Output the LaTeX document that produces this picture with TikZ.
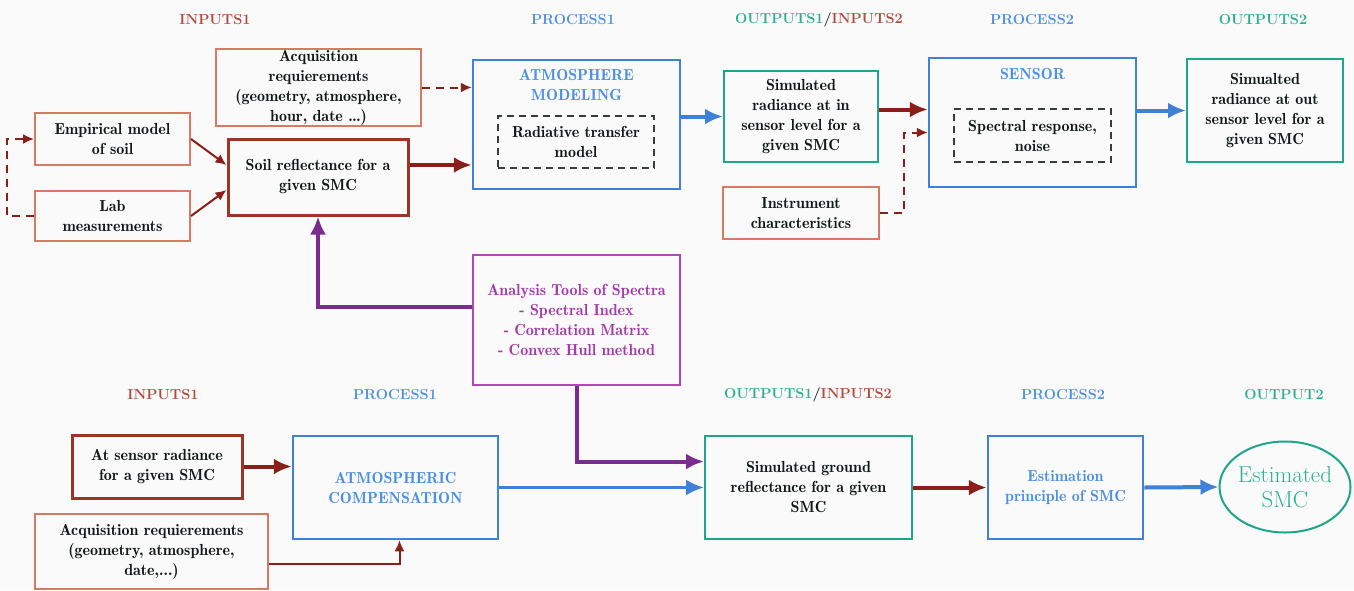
\documentclass[tikz,border=0pt]{standalone}
\usepackage{fontspec}
\usepackage{xcolor}
\usepackage{tikz}
\usetikzlibrary{arrows}
\usetikzlibrary{arrows.meta}
\usetikzlibrary{shapes}
\usetikzlibrary{shapes.geometric}
\tikzset{>=latex}

\newfontfamily\demifam{lmromandemi10-regular.otf}

\definecolor{inred}{HTML}{D67A63}
\definecolor{darkred}{HTML}{9E3426}
\definecolor{arrred}{HTML}{8A1F1A}
\definecolor{hdred}{HTML}{B04A3C}
\definecolor{procblue}{HTML}{3F80D8}
\definecolor{txtblue}{HTML}{4C90E0}
\definecolor{outgreen}{HTML}{1FA58A}
\definecolor{hdgreen}{HTML}{2AB08F}
\definecolor{toolpurple}{HTML}{7B2C8E}
\definecolor{toolpink}{HTML}{B347B5}
\definecolor{tooltxt}{HTML}{A33AA8}
\definecolor{ink}{HTML}{121819}

\newcommand{\bxfont}{\demifam\fontsize{16}{20}\selectfont}
\newcommand{\hdfont}{\fontsize{14.5}{17}\selectfont\bfseries}

\tikzstyle{hd} = [font=\hdfont, inner sep=0pt]
\tikzstyle{inbox} = [rectangle, draw=inred, line width=2pt, font=\bxfont, text=ink, align=center, inner sep=0pt]
\tikzstyle{keybox} = [inbox, draw=darkred, line width=3pt]
\tikzstyle{procbox} = [rectangle, draw=procblue, line width=2.5pt, font=\bxfont, text=txtblue, align=center, inner sep=0pt]
\tikzstyle{outbox} = [rectangle, draw=outgreen, line width=2pt, font=\bxfont, text=ink, align=center, inner sep=0pt]
\tikzstyle{subbox} = [rectangle, draw=ink!85, dash pattern=on 7pt off 5pt, line width=2pt, font=\bxfont, text=ink, align=center, inner sep=0pt]
\tikzstyle{toolbox} = [rectangle, draw=toolpink, line width=2pt, font=\bxfont, text=tooltxt, align=center, inner sep=0pt]
\tikzstyle{flow} = [-{Latex[length=18pt, width=16pt]}, line width=4pt, draw=arrred]
\tikzstyle{feed} = [-{Latex[length=11pt, width=10pt]}, line width=2pt, draw=arrred]
\tikzstyle{opt} = [feed, dash pattern=on 8pt off 6pt]
\tikzstyle{blueflow} = [-{Latex[length=18pt, width=16pt]}, line width=4pt, draw=procblue]
\tikzstyle{toolflow} = [-{Latex[length=18pt, width=16pt]}, line width=4pt, draw=toolpurple]

\begin{document}
\begin{tikzpicture}[x=1pt, y=-1pt]
\useasboundingbox (0,0) rectangle (1354,590);
\fill [black!2] (0,0) rectangle (1354,590);

% top row headings
\node [hd, text=hdred] (H1) at (215, 20) {INPUTS1};
\node [hd, text=txtblue] (H2) at (573, 20) {PROCESS1};
\node [hd] (H3) at (819, 20) {\textcolor{hdgreen}{OUTPUTS1}\textcolor{ink}{/}\textcolor{hdred}{INPUTS2}};
\node [hd, text=txtblue] (H4) at (1032, 20) {PROCESS2};
\node [hd, text=hdgreen] (H5) at (1263, 20) {OUTPUTS2};

% top row boxes
\node [inbox, minimum width=205pt, minimum height=77pt] (AQ) at (318.5, 87.5) {Acquisition\\requierements\\(geometry, atmosphere,\\hour, date \dots)};
\node [inbox, minimum width=155pt, minimum height=52pt] (EM) at (112.5, 139) {Empirical model\\of soil};
\node [inbox, minimum width=155pt, minimum height=50pt] (LB) at (112.5, 216) {Lab\\measurements};
\node [keybox, minimum width=180pt, minimum height=76pt] (SR) at (318, 177) {Soil reflectance for a\\given SMC};
\node [procbox, minimum width=207pt, minimum height=129pt] (AT) at (576.5, 124.5) {};
\node [font=\bxfont, text=txtblue, align=center] (ATT) at (576.5, 85) {ATMOSPHERE\\MODELING};
\node [subbox, minimum width=156pt, minimum height=52pt] (RT) at (576, 142) {Radiative transfer\\model};
\node [outbox, minimum width=154pt, minimum height=91pt] (SI) at (801, 116.5) {Simulated\\radiance at in\\sensor level for a\\given SMC};
\node [inbox, minimum width=156pt, minimum height=52pt] (IC) at (801, 213) {Instrument\\characteristics};
\node [procbox, minimum width=207pt, minimum height=129pt] (SE) at (1032.5, 122.5) {};
\node [font=\bxfont, text=txtblue] (SET) at (1032.5, 74) {SENSOR};
\node [subbox, minimum width=157pt, minimum height=53pt] (SP) at (1032.5, 135.5) {Spectral response,\\noise};
\node [outbox, minimum width=156pt, minimum height=103pt] (SO) at (1265, 110.5) {Simualted\\radiance at out\\sensor level for a\\given SMC};

% analysis tools
\node [toolbox, minimum width=207pt, minimum height=130pt] (TO) at (576.5, 320) {Analysis Tools of Spectra\\- Spectral Index\\- Correlation Matrix\\- Convex Hull method};

% bottom row headings
\node [hd, text=hdred] (B1) at (163, 395) {INPUTS1};
\node [hd, text=txtblue] (B2) at (395, 395) {PROCESS1};
\node [hd] (B3) at (808, 395) {\textcolor{hdgreen}{OUTPUTS1}\textcolor{ink}{/}\textcolor{hdred}{INPUTS2}};
\node [hd, text=txtblue] (B4) at (1063, 395) {PROCESS2};
\node [hd, text=hdgreen] (B5) at (1284, 395) {OUTPUT2};

% bottom row boxes
\node [keybox, minimum width=170pt, minimum height=63pt] (AS) at (157, 466.5) {At sensor radiance\\for a given SMC};
\node [inbox, minimum width=233pt, minimum height=75pt] (AQ2) at (151.5, 551.5) {Acquisition requierements\\(geometry, atmosphere,\\date,...)};
\node [procbox, minimum width=205pt, minimum height=103pt] (AC) at (395.5, 487.5) {ATMOSPHERIC\\COMPENSATION};
\node [outbox, minimum width=207pt, minimum height=103pt] (SG) at (808.5, 487.5) {Simulated ground\\reflectance for a given\\SMC};
\node [procbox, minimum width=155pt, minimum height=103pt] (ES) at (1065.5, 487.5) {Estimation\\principle of SMC};
\node [ellipse, draw=outgreen, line width=2pt, minimum width=131pt, minimum height=91pt, inner xsep=-12pt, inner ysep=0pt, text=hdgreen, font=\fontsize{23}{25}\selectfont, align=center] (SM) at (1285, 487) {Estimated\\SMC};

% top row links
\draw [feed] (EM.east) -- ([yshift=12pt]SR.west);
\draw [feed] (LB.east) -- ([yshift=-13pt]SR.west);
\draw [opt] (LB.west) -- ++(-27,0) |- (EM.west);
\draw [opt] (AQ.east) -- (AQ.east -| AT.west);
\draw [flow] ([yshift=12pt]SR.east) -- ([yshift=12pt]SR.east -| AT.west);
\draw [blueflow] (SI.west -| AT.east) -- (SI.west);
\draw [flow] ([yshift=7pt]SI.east) -- ([yshift=7pt]SI.east -| SE.west);
\draw [opt] (IC.east) -- ++(24,0) |- ([yshift=-10pt]SE.west);
\draw [blueflow] (SO.west -| SE.east) -- (SO.west);

% analysis tools links
\draw [toolflow] ([yshift=13pt]TO.west) -| (SR.south);
\draw [toolflow] (TO.south) |- ([yshift=26pt]SG.west);

% bottom row links
\draw [flow] (AS.east) -- (AS.east -| AC.west);
\draw [feed] ([yshift=-12pt]AQ2.east) -| ([xshift=4pt]AC.south);
\draw [blueflow, line width=3pt] (AC.east) -- (SG.west);
\draw [flow] (SG.east) -- (ES.west);
\draw [blueflow] (ES.east) -- (SM.west);
\end{tikzpicture}
\end{document}
